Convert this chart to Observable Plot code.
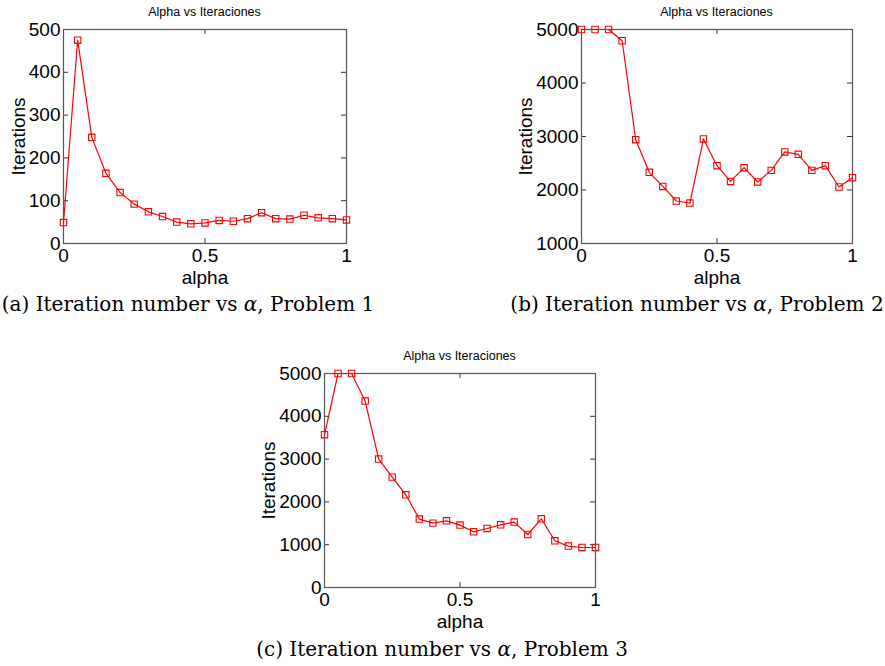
<!DOCTYPE html>
<html><head><meta charset="utf-8">
<script src="https://cdn.jsdelivr.net/npm/d3@7"></script>
<script src="https://cdn.jsdelivr.net/npm/@observablehq/plot@0.6"></script>
<style>
body{margin:0;background:#fff;}
#root{position:relative;width:885px;height:666px;overflow:hidden;}
.panel{position:absolute;}
.title{position:absolute;font-family:"Liberation Sans",Arial,sans-serif;font-size:12.5px;color:#000;transform:translate(-50%,-50%);white-space:nowrap;}
.cap{position:absolute;font-family:"DejaVu Serif","Liberation Serif",serif;font-size:20px;color:#000;transform:translate(-50%,-50%);white-space:nowrap;}
</style></head>
<body><div id="root"></div>
<script>
const alpha = [0,0.05,0.1,0.15,0.2,0.25,0.3,0.35,0.4,0.45,0.5,0.55,0.6,0.65,0.7,0.75,0.8,0.85,0.9,0.95,1];
const iterP1 = [49,475,248,164,119,92,74,63,50,46,48,54,52,58,72,58,57,66,60,58,55];
const iterP2 = [5000,5000,5000,4790,2940,2330,2067,1794,1756,2955,2455,2161,2418,2150,2367,2711,2667,2367,2455,2056,2230];
const iterP3 = [3570,5000,5000,4355,3000,2579,2166,1598,1504,1558,1458,1301,1379,1465,1528,1238,1605,1091,967,935,935];
const xTicks = [0,0.5,1];
const yTicksP1 = [0,100,200,300,400,500];
const yTicksP2 = [1000,2000,3000,4000,5000];
const yTicksP3 = [0,1000,2000,3000,4000,5000];
const titleText = "Alpha vs Iteraciones";
const xLabel = "alpha";
const yLabel = "Iterations";
const captions = ["(a) Iteration number vs <i>α</i>, Problem 1","(b) Iteration number vs <i>α</i>, Problem 2","(c) Iteration number vs <i>α</i>, Problem 3"];

const root = document.getElementById("root");
const fmt = d3.format("");

function panel(cfg){
  const {left, top, width, height, ml, mt, mr, mb, ys, yDomain, yTicks, yLabelOffset} = cfg;
  const pw = width - ml - mr, ph = height - mt - mb;
  const data = alpha.map((a,i)=>({a, v: ys[i]}));
  const tick = 5;
  const chart = Plot.plot({
    width, height, marginLeft: ml, marginTop: mt, marginRight: mr, marginBottom: mb,
    style: {fontFamily: '"Liberation Sans", Arial, sans-serif', fontSize: "19px", color: "#000", background: "transparent", overflow: "visible"},
    x: {domain: [0,1]},
    y: {domain: yDomain},
    marks: [
      Plot.axisX({anchor: "bottom", ticks: xTicks, tickFormat: fmt, tickSize: 0, tickPadding: 5, label: xLabel, labelAnchor: "center", labelOffset: 40, labelArrow: "none", fontSize: 19}),
      Plot.axisY({anchor: "left", ticks: yTicks, tickFormat: fmt, tickSize: 0, tickPadding: 3, label: yLabel, labelAnchor: "center", labelOffset: yLabelOffset, labelArrow: "none", fontSize: 19}),
      Plot.tickX(xTicks, {x: d=>d, insetTop: ph - tick, stroke: "#333"}),
      Plot.tickX(xTicks, {x: d=>d, insetBottom: ph - tick, stroke: "#333"}),
      Plot.tickY(yTicks, {y: d=>d, insetRight: pw - tick, stroke: "#333"}),
      Plot.tickY(yTicks, {y: d=>d, insetLeft: pw - tick, stroke: "#333"}),
      Plot.frame({stroke: "#555", strokeWidth: 1.2}),
      Plot.line(data, {x: "a", y: "v", stroke: "#ff0000", strokeWidth: 1.2}),
      Plot.dot(data, {x: "a", y: "v", symbol: "square", r: 3.6, stroke: "#ff0000", fill: "none", strokeWidth: 1.1})
    ]
  });
  const d = document.createElement("div");
  d.className = "panel"; d.style.left = left + "px"; d.style.top = top + "px";
  d.appendChild(chart);
  root.appendChild(d);
  const t = document.createElement("div");
  t.className = "title"; t.textContent = titleText;
  t.style.left = (left + ml + pw/2) + "px"; t.style.top = (top + mt - 17) + "px";
  root.appendChild(t);
}

panel({left: 0, top: 0, width: 360, height: 290, ml: 63, mt: 29, mr: 14, mb: 47, ys: iterP1, yDomain: [0,500], yTicks: yTicksP1, yLabelOffset: 52});
panel({left: 500, top: 0, width: 385, height: 290, ml: 81, mt: 29, mr: 33, mb: 47, ys: iterP2, yDomain: [1000,5000], yTicks: yTicksP2, yLabelOffset: 63});
panel({left: 250, top: 330, width: 370, height: 300, ml: 74, mt: 43, mr: 25, mb: 43, ys: iterP3, yDomain: [0,5000], yTicks: yTicksP3, yLabelOffset: 63});

const capPos = [[188,304],[697,304],[442,649]];
captions.forEach((c,i)=>{
  const e = document.createElement("div");
  e.className = "cap"; e.innerHTML = c;
  e.style.left = capPos[i][0] + "px"; e.style.top = capPos[i][1] + "px";
  root.appendChild(e);
});
</script></body></html>
